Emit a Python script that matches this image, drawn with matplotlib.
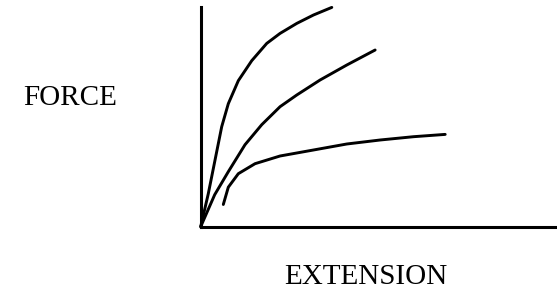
import matplotlib.pyplot as plt

# curves (arbitrary units: extension, force)
c1_x = [0, 7.6, 14.3, 21, 27.6, 37.6, 51, 66, 79.3, 96, 112.7, 131]
c1_y = [0, 33, 66.5, 100, 123, 146, 166, 183.3, 193.3, 203.3, 211.7, 219.3]

c2_x = [0, 14, 27.6, 44.3, 61, 79.3, 96, 119.3, 146, 174.3]
c2_y = [0, 32, 55, 82, 102, 120, 131.7, 146.7, 161.7, 176.7]

c3_x = [22.6, 27.6, 37.6, 54.3, 79.3, 112.7, 146, 179.3, 212.7, 244.3]
c3_y = [22.2, 39.5, 53, 63, 70.7, 76.7, 82.7, 86.7, 90, 92.3]

fig = plt.figure(figsize=(5.57, 2.90), dpi=100)
ax = fig.add_axes([0.3603, 0.2183, 0.6397, 0.7586])

for xs, ys in [(c1_x, c1_y), (c2_x, c2_y), (c3_x, c3_y)]:
    ax.plot(xs, ys, color='black', lw=2.1, solid_joinstyle='round',
            solid_capstyle='round', clip_on=False)

ax.set_xlim(0, 356)
ax.set_ylim(0, 220)
ax.set_xticks([])
ax.set_yticks([])
for s in ['top', 'right']:
    ax.spines[s].set_visible(False)
for s in ['left', 'bottom']:
    ax.spines[s].set_linewidth(2.2)

fig.text(0.125, 0.662, 'FORCE', family='Liberation Serif', fontsize=21,
         ha='center', va='center')
fig.text(0.657, 0.045, 'EXTENSION', family='Liberation Serif', fontsize=21,
         ha='center', va='center')

fig.savefig('out.png', dpi=100)
